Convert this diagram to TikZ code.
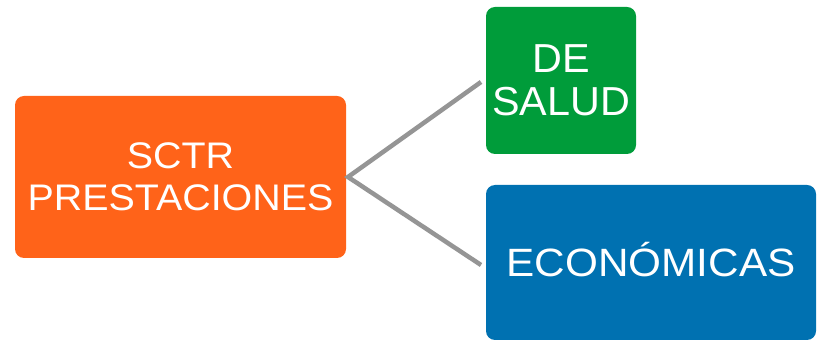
\documentclass[tikz,border=0pt]{standalone}
\usepackage{fontspec}
\setmainfont{Liberation Sans}
\newfontfamily\orangefont[FakeStretch=1.065]{Liberation Sans}
\newfontfamily\greenfont[FakeStretch=1.02]{Liberation Sans}
\newfontfamily\bluefont[FakeStretch=1.07]{Liberation Sans}
\definecolor{boxorange}{HTML}{FF6319}
\definecolor{boxgreen}{HTML}{009C3A}
\definecolor{boxblue}{HTML}{0071B1}
\definecolor{linkgray}{HTML}{959595}
\tikzset{
  itembox/.style={rounded corners=9pt, inner sep=0pt, align=center, text=white},
  link/.style={draw=linkgray, line width=4.5pt}
}
\begin{document}
\begin{tikzpicture}[x=1pt,y=-1pt]
\useasboundingbox (0,0) rectangle (817,344);
\node[itembox, fill=boxorange, minimum width=331pt, minimum height=162pt,
  font=\orangefont\fontsize{37}{42}\selectfont] (main) at (180.5,177) {SCTR\\PRESTACIONES};
\node[itembox, fill=boxgreen, minimum width=150pt, minimum height=147pt,
  font=\greenfont\fontsize{40.5}{42.5}\selectfont] (salud) at (561,80.5) {DE\\SALUD};
\node[itembox, fill=boxblue, minimum width=330pt, minimum height=155pt, text height=28.3pt, text depth=0pt,
  font=\bluefont\fontsize{39.5}{42}\selectfont] (econ) at (651,262.5) {ECONÓMICAS};
\coordinate (hub) at (348,177);
\coordinate (tsalud) at (481,82);
\coordinate (tecon) at (481,265);
\draw[link] (tsalud) -- (hub) -- (tecon);
\end{tikzpicture}
\end{document}
